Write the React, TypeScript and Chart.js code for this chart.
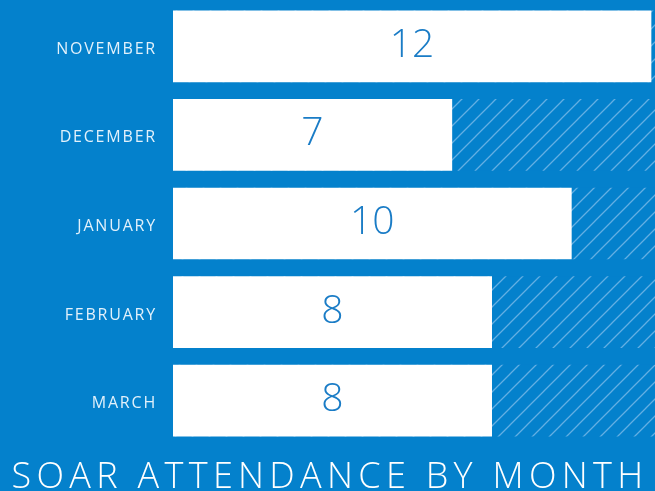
import React, { useEffect, useRef } from "react";
import { Chart, registerables } from "chart.js";

Chart.register(...registerables);

const months = ["NOVEMBER", "DECEMBER", "JANUARY", "FEBRUARY", "MARCH"];
const attendance = [12, 7, 10, 8, 8];
const axisMax = 12.1;
const trackValues = [axisMax, axisMax, axisMax, axisMax, axisMax];
const chartTitle = "SOAR ATTENDANCE BY MONTH";

const BG = "#0481cc";

function makeHatch(): CanvasPattern | string {
  const s = 17;
  const c = document.createElement("canvas");
  c.width = s;
  c.height = s;
  const g = c.getContext("2d");
  if (!g) return BG;
  g.fillStyle = BG;
  g.fillRect(0, 0, s, s);
  g.strokeStyle = "rgba(110,180,230,0.9)";
  g.lineWidth = 1.3;
  g.beginPath();
  g.moveTo(-2, s + 2);
  g.lineTo(s + 2, -2);
  g.moveTo(-2, 2);
  g.lineTo(2, -2);
  g.moveTo(s - 2, s + 2);
  g.lineTo(s + 2, s - 2);
  g.stroke();
  const p = g.createPattern(c, "repeat");
  return p || BG;
}

export default function App() {
  const ref = useRef<HTMLCanvasElement | null>(null);

  useEffect(() => {
    document.body.style.margin = "0";
    const canvas = ref.current;
    if (!canvas) return;

    const spacingPlugin = {
      id: "spacing",
      beforeDraw(chart: any) {
        chart.ctx.letterSpacing = "1.8px";
      },
      beforeDatasetsDraw(chart: any) {
        chart.ctx.letterSpacing = "0px";
      },
    };

    const valuePlugin = {
      id: "values",
      afterDatasetsDraw(chart: any) {
        const ctx = chart.ctx;
        const meta = chart.getDatasetMeta(1);
        ctx.save();
        ctx.letterSpacing = "0px";
        ctx.fillStyle = "#1a7cc6";
        ctx.font = "300 39px 'Open Sans'";
        ctx.textAlign = "center";
        ctx.textBaseline = "alphabetic";
        meta.data.forEach((bar: any, i: number) => {
          const cx = (bar.x + bar.base) / 2;
          ctx.fillText(String(attendance[i]), cx, bar.y + 10.5);
        });
        ctx.restore();
      },
    };

    const chart = new Chart(canvas, {
      type: "bar",
      data: {
        labels: months,
        datasets: [
          {
            label: "track",
            data: trackValues,
            backgroundColor: makeHatch() as any,
            borderWidth: 0,
            barThickness: 71,
            grouped: false,
            order: 2,
          },
          {
            label: "Attendance",
            data: attendance,
            backgroundColor: "#ffffff",
            borderWidth: 0,
            barThickness: 71,
            grouped: false,
            order: 1,
          },
        ],
      },
      options: {
        indexAxis: "y",
        animation: false,
        responsive: false,
        maintainAspectRatio: false,
        layout: { padding: { top: 2, bottom: 46, left: 0, right: 0 } },
        plugins: {
          legend: { display: false },
          tooltip: { enabled: false },
          title: { display: false },
        },
        scales: {
          x: {
            display: false,
            min: 0,
            max: axisMax,
          },
          y: {
            grid: { display: false, drawTicks: false },
            border: { display: false },
            ticks: {
              color: "#e2f1fb",
              font: { family: "'Open Sans'", size: 16, weight: "500" },
              padding: 16,
              labelOffset: 3,
            },
            afterFit(scale: any) {
              scale.width = 173;
              scale.paddingTop = 0;
              scale.paddingBottom = 0;
            },
          },
        },
      },
      plugins: [spacingPlugin, valuePlugin],
    });

    return () => chart.destroy();
  }, []);

  return (
    <div
      style={{
        position: "fixed",
        left: 0,
        top: 0,
        width: 655,
        height: 491,
        background: BG,
        overflow: "hidden",
      }}
    >
      <canvas ref={ref} width={655} height={491} style={{ display: "block" }} />
      <div
        style={{
          position: "absolute",
          left: 0,
          top: 457,
          width: 655,
          paddingLeft: 5,
          boxSizing: "border-box",
          textAlign: "center",
          color: "#ffffff",
          fontFamily: "'Open Sans'",
          fontWeight: 300,
          fontSize: 36,
          lineHeight: "36px",
          letterSpacing: "5.3px",
          whiteSpace: "nowrap",
        }}
      >
        {chartTitle}
      </div>
    </div>
  );
}
